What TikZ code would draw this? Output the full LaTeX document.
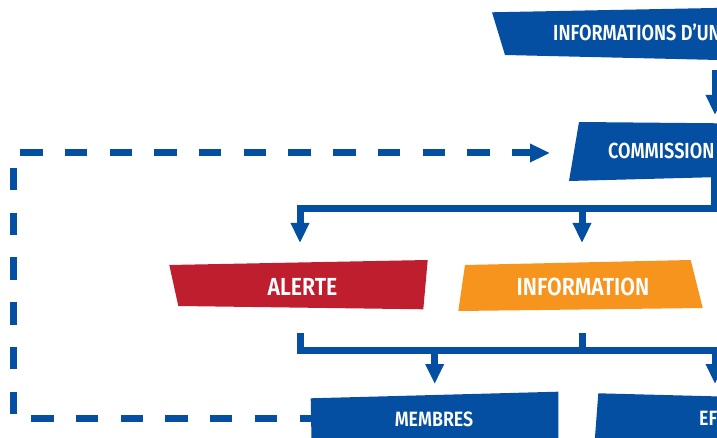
\documentclass[tikz,border=0pt]{standalone}
\usepackage{fontspec}
\setmainfont{Fira Sans}
\newfontfamily\labfont{Fira Sans}[FakeStretch=0.86,BoldFont={Fira Sans SemiBold}]
\newfontfamily\labfontn{Fira Sans}[FakeStretch=0.83,BoldFont={Fira Sans SemiBold}]
\usetikzlibrary{arrows.meta}
\definecolor{eublue}{HTML}{044FA1}
\definecolor{eured}{HTML}{BE1E2D}
\definecolor{euorange}{HTML}{F6941E}
\begin{document}
\begin{tikzpicture}[x=1pt,y=-1pt,
  lab/.style={text=white,inner sep=0pt},
  big/.style={font=\labfont\bfseries\fontsize{24.7}{26}\selectfont},
  mid/.style={font=\labfontn\bfseries\fontsize{21.8}{24}\selectfont},
  small/.style={font=\labfont\bfseries\fontsize{20.7}{23}\selectfont},
  conn/.style={draw=eublue,line width=7pt,line join=miter},
  tipa/.style={-{Triangle[length=20pt,width=17.5pt]}},
  dashline/.style={draw=eublue,line width=7pt,dash pattern=on 22.35pt off 22.35pt,dash phase=10.85pt}]
\useasboundingbox (0,0) rectangle (717,438);
\clip (0,0) rectangle (717,438);
% boxes
\fill[eublue] (492,12.3) -- (740,7.5) -- (740,60.5) -- (505,55) -- cycle;
\fill[eublue] (579,122) -- (740,123.5) -- (740,176.5) -- (569,181) -- cycle;
\fill[eured] (169.3,265) -- (427.7,260) -- (423.3,309.3) -- (178.3,306) -- cycle;
\fill[euorange] (465,265) -- (690.7,260) -- (702.7,308) -- (458.3,311) -- cycle;
\fill[eublue] (310.7,398.3) -- (558.3,391.7) -- (558.3,450) -- (311.7,450) -- cycle;
\fill[eublue] (598.3,393.3) -- (740,397) -- (740,450) -- (594,450) -- cycle;
% labels
\node[lab,mid,anchor=west] (tinfo) at (553,32.5) {INFORMATIONS D’UN};
\node[lab,mid,anchor=west] (comm) at (608,151) {COMMISSION};
\node[lab,big] (alerte) at (302.5,286.5) {ALERTE};
\node[lab,big] (info) at (583,286.5) {INFORMATION};
\node[lab,small] (membres) at (434,419) {MEMBRES};
\node[lab,small,anchor=west] (ef) at (699,418.5) {EF};
% connector coordinates
\coordinate (topS) at (715,70);
\coordinate (commN) at (715,115);
\coordinate (commS) at (714,177);
\coordinate (splitA) at (714,209);
\coordinate (alerteN) at (300,243);
\coordinate (infoN) at (582,243);
\coordinate (alerteS) at (300,333);
\coordinate (infoS) at (582,333);
\coordinate (joinB) at (582,350);
\coordinate (membresN) at (434.7,384);
\coordinate (efN) at (715,384);
\coordinate (membresW) at (311,418);
\coordinate (cornerBL) at (13,418);
\coordinate (cornerTL) at (13,153);
\coordinate (commW) at (550,153);
% connectors
\draw[conn,tipa] (topS) -- (commN);
\draw[conn,tipa] (commS) |- (alerteN |- splitA) -- (alerteN);
\draw[conn,tipa] (infoN |- splitA) -- (infoN);
\draw[conn,tipa] (alerteS) |- (efN |- joinB) -- (efN);
\draw[conn] (infoS) -- (joinB);
\draw[conn,tipa] (membresN |- joinB) -- (membresN);
\draw[dashline,tipa] (membresW) -- (cornerBL) -- (cornerTL) -- (commW);
\end{tikzpicture}
\end{document}
